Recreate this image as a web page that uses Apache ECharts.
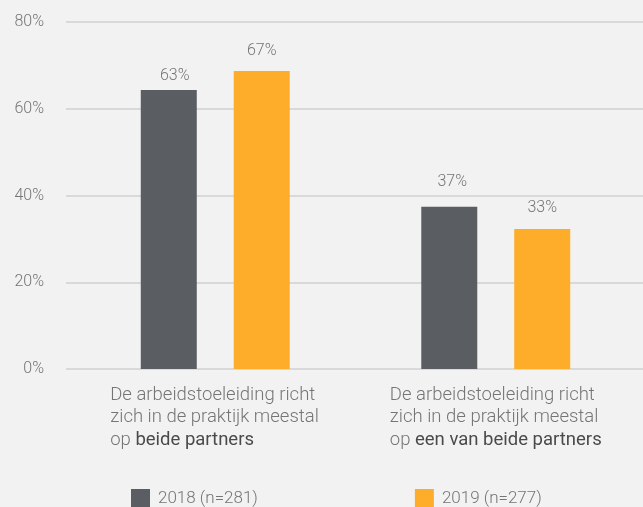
<!DOCTYPE html>
<html><head><meta charset="utf-8">
<script src="https://cdn.jsdelivr.net/npm/echarts@6/dist/echarts.min.js"></script>
<style>html,body{margin:0;padding:0;background:#f2f2f2;}#c{width:643px;height:507px;}</style>
</head><body><div id="c"></div>
<script>
const categories = [
  ['De arbeidstoeleiding richt', 'zich in de praktijk meestal', 'op ', 'beide partners'],
  ['De arbeidstoeleiding richt', 'zich in de praktijk meestal', 'op ', 'een van beide partners']
];
const seriesNames = ['2018 (n=281)', '2019 (n=277)'];
const values2018 = [64.3, 37.4];
const values2019 = [68.7, 32.3];
const labels2018 = ['63%', '37%'];
const labels2019 = ['67%', '33%'];
const yTicks = [0, 20, 40, 60, 80];

const chart = echarts.init(document.getElementById('c'), null, {renderer: 'canvas'});
const FONT = 'Roboto';
const grey = '#757575';
const lblDist = [[6, 17], [12, 13]];
const lblOff = [[[6, 0], [3, 0]], [[0, 0], [0, 0]]];

function mkData(vals, labs, si) {
  return vals.map((v, i) => ({
    value: v,
    label: {formatter: labs[i], distance: lblDist[si][i], offset: lblOff[si][i]}
  }));
}
function rs(extra) {
  return Object.assign({fontFamily: FONT, fontSize: 18.5, fontWeight: 300, color: grey, lineHeight: 22.5, align: 'left'}, extra);
}

chart.setOption({
  backgroundColor: '#f2f2f2',
  animation: false,
  grid: [
    {left: 66, right: 0, top: 22, bottom: 138},
    {left: 75, right: 7, top: 22, bottom: 138}
  ],
  xAxis: [
    {type: 'value', gridIndex: 0, show: false, min: 0, max: 1},
    {type: 'category', gridIndex: 1,
     data: categories.map((c, i) => ({value: String(i)})),
     axisLine: {show: false}, axisTick: {show: false},
     axisLabel: {
       margin: 15, interval: 0,
       formatter: function (v) {
         const c = categories[+v];
         return '{a|' + c[0] + '}\n{a|' + c[1] + '}\n{p|' + c[2] + '}{B|' + c[3] + '}';
       },
       rich: {
         a: rs({width: 203, padding: [0, 7, 0, 0]}),
         p: rs({}),
         B: rs({fontWeight: 400, color: '#4a4a4a'})
       }
     }}
  ],
  yAxis: [
    {type: 'value', gridIndex: 0, min: 0, max: 80, interval: 20,
     axisLine: {show: false}, axisTick: {show: false},
     axisLabel: {margin: 22, fontFamily: FONT, fontSize: 16, fontWeight: 300, color: grey,
       formatter: v => yTicks.includes(v) ? v + '%' : ''},
     splitLine: {lineStyle: {color: '#d9d9d9', width: 2}}},
    {type: 'value', gridIndex: 1, min: 0, max: 80, interval: 20, show: false, splitLine: {show: false}}
  ],
  legend: {
    left: 126, top: 484, itemWidth: 19, itemHeight: 19, itemGap: 157, icon: 'rect',
    textStyle: {fontFamily: FONT, fontSize: 17, fontWeight: 300, color: grey, padding: [0, 0, 0, 3]},
    data: seriesNames
  },
  series: [
    {name: seriesNames[0], type: 'bar', xAxisIndex: 1, yAxisIndex: 1, barWidth: 56, barGap: '66%',
     itemStyle: {color: '#5a5d61'},
     label: {show: true, position: 'top', fontFamily: FONT, fontSize: 16, fontWeight: 300, color: grey},
     data: mkData(values2018, labels2018, 0)},
    {name: seriesNames[1], type: 'bar', xAxisIndex: 1, yAxisIndex: 1, barWidth: 56, barGap: '66%',
     itemStyle: {color: '#fdad29'},
     label: {show: true, position: 'top', fontFamily: FONT, fontSize: 16, fontWeight: 300, color: grey},
     data: mkData(values2019, labels2019, 1)}
  ]
});
</script></body></html>
